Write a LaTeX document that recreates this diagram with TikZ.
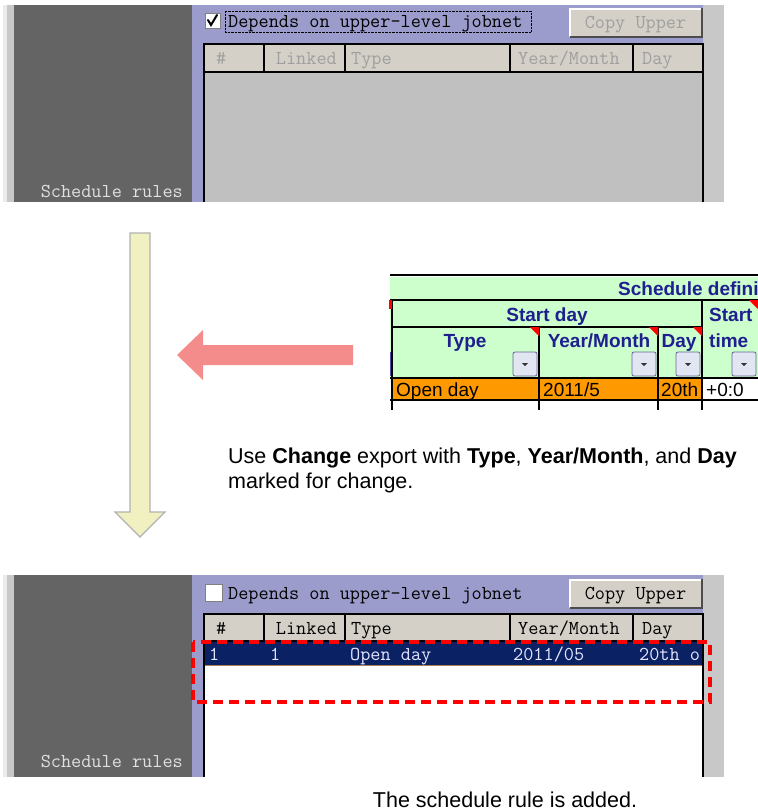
\documentclass[tikz,border=0pt]{standalone}
\usepackage{fontspec}
\setmainfont{Liberation Sans}
\usetikzlibrary{positioning}
\definecolor{panelgray}{HTML}{646464}
\definecolor{panelpurple}{HTML}{9C9CCC}
\definecolor{btnface}{HTML}{D4D0C8}
\definecolor{framegray}{HTML}{C8C8C8}
\definecolor{bodygray}{HTML}{C0C0C0}
\definecolor{selnavy}{HTML}{0A2163}
\definecolor{xlgreen}{HTML}{CCFFCC}
\definecolor{xlorange}{HTML}{FF9900}
\definecolor{xlnavy}{HTML}{1F1F8F}
\definecolor{ddblue}{HTML}{E2E6F2}
\definecolor{arrowyellow}{HTML}{F0F0C0}
\definecolor{arrowpink}{HTML}{F48C8C}
\begin{document}
\begin{tikzpicture}
  [x=1pt, y=-1pt,
  mono/.style={font=\ttfamily\fontsize{19.7}{22}\selectfont,inner sep=0pt,anchor=base},
  monol/.style={mono,anchor=base west},
  monor/.style={mono,anchor=base east},
  xlhead/.style={font=\bfseries\fontsize{19}{22}\selectfont,text=xlnavy,inner sep=0pt,anchor=base},
  xlcell/.style={font=\fontsize{19}{22}\selectfont,inner sep=0pt,anchor=base west},
  note/.style={font=\fontsize{21.5}{25}\selectfont,inner sep=0pt,anchor=base west},
  grid/.style={black,line width=1.2pt},
  ddbtn/.style={draw=gray!80!blue,fill=ddblue,rounded corners=2pt,line width=0.8pt},
  redcorner/.style={fill=red},
  dimtext/.style={text=gray!75}]
  \useasboundingbox (0,0) rectangle (758,812);

  % upper window (before)
  \fill[framegray] (3,5) rectangle (724,202);
  \fill[white!92!black] (3,5) rectangle (7,202);
  \fill[panelgray] (14,5) rectangle (192,202);
  \fill[panelpurple] (192,5) rectangle (703,202);
  \node[monor,text=white!88!black] (rules1) at (183,197) {Schedule rules};
  \draw[fill=white,draw=gray] (205,13) rectangle (220,28);
  \draw[line width=2pt,line cap=round] (208,20) -- (211,25) -- (217,15);
  \node[monol] (dep1) at (228,27) {Depends on upper-level jobnet};
  \draw[densely dotted] (225,11) rectangle (531,32);
  \fill[btnface] (569,8) rectangle (702,37);
  \draw[white,line width=1.5pt] (570,36) -- (570,9) -- (701,9);
  \draw[gray!60!black,line width=1.5pt] (570,37) -- (702,37) -- (702,8);
  \node[mono,dimtext] (copy1) at (635.5,28.5) {Copy Upper};
  \fill[bodygray] (205,72) rectangle (702,202);
  \fill[btnface] (205,45) rectangle (702,72);
  \draw[line width=1.5pt] (204,202) -- (204,44) -- (703,44) -- (703,202);
  \draw[line width=2pt] (205,72) -- (702,72);
  \foreach \x in {264,345,510,633}
    \draw[line width=1.2pt] (\x,45) -- (\x,72);
  \node[monol,dimtext] (num1) at (216,64) {\#};
  \node[monor,dimtext] (lnk1) at (337,64) {Linked};
  \node[monol,dimtext] (typ1) at (351,64) {Type};
  \node[monol,dimtext] (ym1) at (518,64) {Year/Month};
  \node[monol,dimtext] (day1) at (642,64) {Day};

  % arrows
  \draw[fill=arrowyellow,draw=gray!60,line width=1.2pt]
    (130,233) -- (150,233) -- (150,512) -- (165,512) -- (140,537) -- (115,512) -- (130,512) -- cycle;
  \fill[arrowpink]
    (353,345) -- (203,345) -- (203,330) -- (177,355) -- (203,380) -- (203,365) -- (353,365) -- cycle;

  % spreadsheet
  \begin{scope}
  \clip (380,265) rectangle (758,412);
  \fill[xlgreen] (390,277) rectangle (758,378);
  \fill[xlorange] (392,378) rectangle (702,400);
  \fill[white] (702,378) rectangle (758,400);
  \draw[line width=2.5pt] (390,275) -- (758,275);
  \draw[grid] (390,300) -- (758,300);
  \draw[grid] (392,327) -- (702,327);
  \draw[grid] (390,378) -- (758,378);
  \draw[grid] (390,400) -- (758,400);
  \foreach \x in {392,702}
    \draw[grid] (\x,300) -- (\x,410);
  \foreach \x in {539,658}
    \draw[grid] (\x,327) -- (\x,410);
  \fill[red] (389,300) rectangle (392,309);
  \draw[gray!60!blue,line width=1pt] (390,352) -- (390,376);
  \foreach \cx/\cy in {539/327,658/327,702/327,758/300}
    \fill[redcorner] (\cx-9,\cy) -- (\cx,\cy) -- (\cx,\cy+9) -- cycle;
  \foreach \bx in {513,632,676,732} {
    \draw[ddbtn] (\bx,352) rectangle (\bx+24,376);
    \fill[gray!40!black] (\bx+9,363) -- (\bx+15,363) -- (\bx+12,366) -- cycle;
  }
  \node[xlhead,anchor=base west] (sdef) at (618,295) {Schedule defini};
  \node[xlhead] (sday) at (547,321) {Start day};
  \node[xlhead,anchor=base west] (stime) at (709,321) {Start};
  \node[xlhead] (ctype) at (465,347) {Type};
  \node[xlhead] (cym) at (599,347) {Year/Month};
  \node[xlhead] (cday) at (679,347) {Day};
  \node[xlhead,anchor=base west] (ctime) at (709,347) {time};
  \node[xlcell] (vtype) at (396,396) {Open day};
  \node[xlcell] (vym) at (543,396) {2011/5};
  \node[xlcell] (vday) at (661,396) {20th};
  \node[xlcell] (vtime) at (706,396) {+0:0};
  \end{scope}

  \node[note] (howto) at (228,463)
    {Use \textbf{Change} export with \textbf{Type}, \textbf{Year/Month}, and \textbf{Day}};
  \node[note] (howto2) at (228,488) {marked for change.};

  % lower window (after)
  \fill[framegray] (3,575) rectangle (724,777);
  \fill[white!92!black] (3,575) rectangle (7,777);
  \fill[panelgray] (14,575) rectangle (192,777);
  \fill[panelpurple] (192,575) rectangle (703,777);
  \node[monor,text=white!88!black] (rules2) at (183,767) {Schedule rules};
  \draw[fill=white,draw=gray] (205,584) rectangle (222,601);
  \node[monol] (dep2) at (228,599) {Depends on upper-level jobnet};
  \fill[btnface] (569,579) rectangle (702,608);
  \draw[white,line width=1.5pt] (570,607) -- (570,580) -- (701,580);
  \draw[gray!60!black,line width=1.5pt] (570,608) -- (702,608) -- (702,579);
  \node[mono] (copy2) at (635.5,599.5) {Copy Upper};
  \fill[white] (205,641) rectangle (702,777);
  \fill[btnface] (205,615) rectangle (702,641);
  \fill[selnavy] (205,642) rectangle (702,665);
  \draw[brown!70!gray,line width=1pt] (205,665) -- (702,665);
  \draw[line width=1.5pt] (204,777) -- (204,614) -- (703,614) -- (703,777);
  \draw[line width=2pt] (205,641) -- (702,641);
  \foreach \x in {264,345,510,633}
    \draw[line width=1.2pt] (\x,615) -- (\x,641);
  \node[monol] (num2) at (216,634) {\#};
  \node[monor] (lnk2) at (337,634) {Linked};
  \node[monol] (typ2) at (351,634) {Type};
  \node[monol] (ym2) at (518,634) {Year/Month};
  \node[monol] (day2) at (642,634) {Day};
  \begin{scope}
  \clip (205,642) rectangle (702,665);
  \node[monol,text=white!90!blue] (rnum) at (209,660) {1};
  \node[monol,text=white!90!blue] (rlnk) at (270,660) {1};
  \node[monol,text=white!90!blue] (rtyp) at (350,660) {Open day};
  \node[monol,text=white!90!blue] (rym) at (513,660) {2011/05};
  \node[monol,text=white!90!blue] (rday) at (639,660) {20th o};
  \end{scope}
  \draw[red,line width=4pt,dash pattern=on 10pt off 6pt] (193,642) rectangle (710,702);

  \node[note,anchor=base] (added) at (505,807) {The schedule rule is added.};
\end{tikzpicture}
\end{document}
